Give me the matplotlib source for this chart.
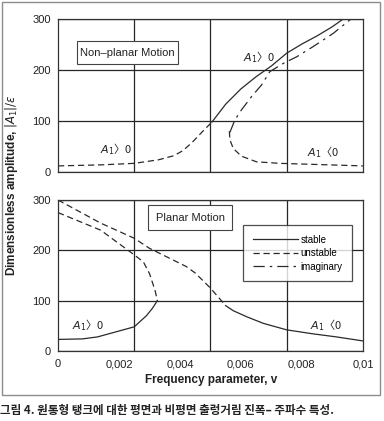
import numpy as np
import matplotlib
matplotlib.use("Agg")
import matplotlib.pyplot as plt
from matplotlib.lines import Line2D
from matplotlib.patches import Rectangle

plt.rcParams["font.family"] = ["Liberation Sans", "Noto Sans CJK KR", "DejaVu Sans"]
plt.rcParams["mathtext.fontset"] = "dejavusans"

# ---- Non-planar motion (top panel) ----
np_unst_pos_v = [0, 0.0014, 0.0025, 0.0033, 0.0038, 0.0041, 0.0044, 0.00475, 0.00505]
np_unst_pos_a = [12, 14, 17, 24, 32, 42, 58, 80, 98]
np_stab_v = [0.00505, 0.0055, 0.0060, 0.0065, 0.0070, 0.0075, 0.0080, 0.0085, 0.0090, 0.0094]
np_stab_a = [98, 133, 163, 187, 208, 233, 251, 267, 285, 302]
np_imag_v = [0.00564, 0.0058, 0.00602, 0.00635, 0.00668, 0.00695, 0.00739, 0.00783, 0.00837, 0.00903, 0.00963]
np_imag_a = [78, 102, 122, 148, 171, 197, 213, 226, 246, 272, 301]
np_unst_neg_v = [0.00562, 0.00564, 0.00575, 0.00602, 0.00651, 0.00728, 0.00837, 0.0100]
np_unst_neg_a = [80, 63, 46, 31, 20, 17, 15, 12]

# ---- Planar motion (bottom panel) ----
pl_unst_up_v = [0, 0.0014, 0.0025, 0.0030, 0.0042, 0.0045, 0.0050, 0.0055]
pl_unst_up_a = [300, 254, 224, 204, 168, 155, 125, 90]
pl_stab_neg_v = [0.0055, 0.00575, 0.00619, 0.00673, 0.0075, 0.00837, 0.00913, 0.0100]
pl_stab_neg_a = [90, 80, 68, 55, 42, 34, 28, 20]
pl_unst_lo_v = [0, 0.0014, 0.0025, 0.0028, 0.0030, 0.00318, 0.00326]
pl_unst_lo_a = [275, 240, 191, 177, 154, 121, 100]
pl_stab_pos_v = [0, 0.0008, 0.0013, 0.0019, 0.0025, 0.0029, 0.0031, 0.00326]
pl_stab_pos_a = [23, 24, 28, 38, 48, 70, 85, 100]

x_ticks = [0, 0.002, 0.004, 0.006, 0.008, 0.01]
x_ticklabels = ["0", "0,002", "0,004", "0,006", "0,008", "0,01"]
y_ticks = [0, 100, 200, 300]

LC = "#2a2a2a"
STABLE = dict(color=LC, lw=0.9, ls="-")
UNSTABLE = dict(color=LC, lw=0.9, ls=(0, (5, 3)))
IMAG = dict(color=LC, lw=0.9, ls=(0, (9, 4, 2, 4)))

fig = plt.figure(figsize=(3.84, 4.21), dpi=100)
ax1 = fig.add_axes([0.151, 0.5914, 0.794, 0.3634])
ax2 = fig.add_axes([0.151, 0.1663, 0.794, 0.3587])

for ax in (ax1, ax2):
    ax.set_xlim(0, 0.01)
    ax.set_ylim(0, 300)
    ax.set_xticks(x_ticks)
    ax.set_xticks([0.0025, 0.005, 0.0075], minor=True)
    ax.set_yticks(y_ticks)
    ax.grid(False)
    ax.grid(True, which="minor", axis="x", color="0.15", lw=0.9)
    ax.grid(True, which="major", axis="y", color="0.15", lw=0.9)
    ax.tick_params(which="both", length=0, labelsize=8, colors="#222")
    for s in ax.spines.values():
        s.set_color("#333")
        s.set_linewidth(0.9)
    ax.set_axisbelow(True)

ax1.set_xticklabels([])
ax2.set_xticklabels(x_ticklabels)
ax1.tick_params(axis="y", pad=5)
ax2.tick_params(axis="y", pad=5)
ax2.tick_params(axis="x", pad=6)

# top panel curves
ax1.plot(np_unst_pos_v, np_unst_pos_a, **UNSTABLE)
ax1.plot(np_stab_v, np_stab_a, **STABLE)
ax1.plot(np_imag_v, np_imag_a, **IMAG)
ax1.plot(np_unst_neg_v, np_unst_neg_a, **UNSTABLE)

# bottom panel curves
ax2.plot(pl_unst_up_v, pl_unst_up_a, **UNSTABLE)
ax2.plot(pl_stab_neg_v, pl_stab_neg_a, **STABLE)
ax2.plot(pl_unst_lo_v, pl_unst_lo_a, **UNSTABLE)
ax2.plot(pl_stab_pos_v, pl_stab_pos_a, **STABLE)

lab_kw = dict(fontsize=8, color="#222", ha="center", va="center",
              family=["Noto Sans CJK KR", "DejaVu Sans"])
ax1.text(0.0019, 44, "$A_1$〉0", **lab_kw)
ax1.text(0.0066, 225, "$A_1$〉0", **lab_kw)
ax1.text(0.0087, 40, "$A_1$〈0", **lab_kw)
ax2.text(0.0010, 52, "$A_1$〉0", **lab_kw)
ax2.text(0.0088, 52, "$A_1$〈0", **lab_kw)

box_kw = dict(facecolor="white", edgecolor="#444", lw=0.8)
ax1.add_patch(Rectangle((0.062, 0.706), 0.331, 0.15, transform=ax1.transAxes, **box_kw, zorder=3))
ax1.text(0.228, 0.781, "Non\u2013planar Motion", transform=ax1.transAxes,
         fontsize=8, ha="center", va="center", color="#222", zorder=4)
ax2.add_patch(Rectangle((0.296, 0.80), 0.274, 0.167, transform=ax2.transAxes, **box_kw, zorder=3))
ax2.text(0.433, 0.883, "Planar Motion", transform=ax2.transAxes,
         fontsize=8, ha="center", va="center", color="#222", zorder=4)

handles = [Line2D([], [], **STABLE), Line2D([], [], **UNSTABLE), Line2D([], [], **IMAG)]
leg = ax2.legend(handles, ["stable", "unstable", "imaginary"],
                 loc="upper left", bbox_to_anchor=(0.607, 0.834),
                 fontsize=7, frameon=True, fancybox=False, handlelength=4.6,
                 handletextpad=0.3, labelspacing=0.35, borderpad=1.0,
                 borderaxespad=0.0)
leg.get_frame().set_edgecolor("#222")
leg.get_frame().set_linewidth(0.9)

fig.text(0.031, 0.56, "Dimensionless amplitude, $|A_1|/\\epsilon$", rotation=90,
         ha="center", va="center", fontsize=8.5, fontweight="bold", color="#222")
fig.text(0.55, 0.097, "Frequency parameter, v", ha="center", va="center",
         fontsize=8.5, fontweight="bold", color="#222")

fig.patches.append(Rectangle((0.005, 0.062), 0.984, 0.933, transform=fig.transFigure,
                             fill=False, edgecolor="0.55", lw=1.0))
fig.text(0.0, 0.026, "그림 4. 원통형 탱크에 대한 평면과 비평면 출렁거림 진폭\u2013 주파수 특성.",
         ha="left", va="center", fontsize=8.3, fontweight="bold", color="#222",
         family=["Noto Sans CJK KR", "DejaVu Sans"])

fig.savefig("out.png", dpi=100)
